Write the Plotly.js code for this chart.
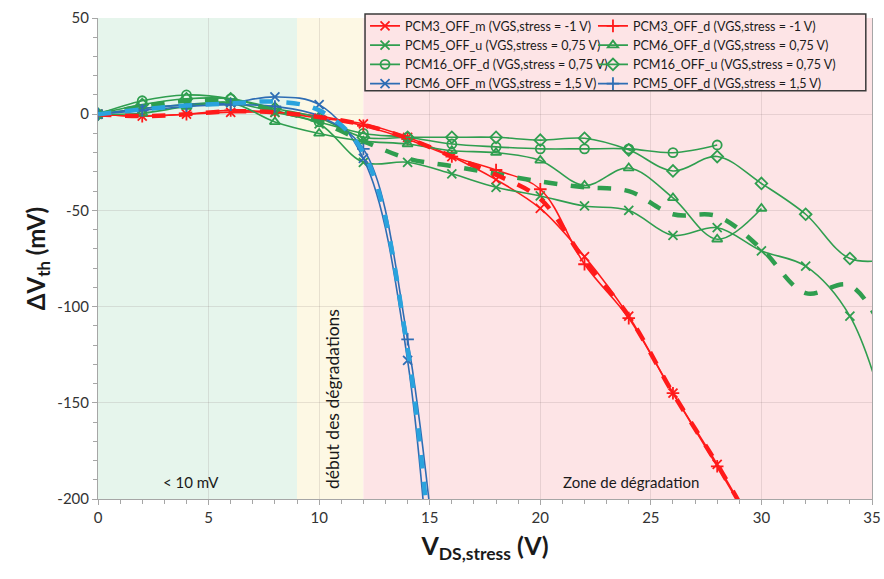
<!DOCTYPE html>
<html>
<head>
<meta charset="utf-8">
<script src="https://cdn.plot.ly/plotly-3.0.1.min.js"></script>
<style>html,body{margin:0;padding:0;background:#fff;}#chart{width:884px;height:579px;}</style>
</head>
<body>
<div id="chart"></div>
<script>
// ---- Data ----
const vds = [0, 2, 4, 6, 8, 10, 12, 14, 16, 18, 20, 22, 24, 26, 28, 30, 32, 34, 36];

const pcm3_m  = [0, -1, 0, 1, 1, -2, -5, -12, -22, -34, -49, -74, -105, -145, -182, -222];
const pcm3_d  = [0, -1, 0, 2, 1, -1, -6, -13, -22, -29, -39, -78, -106, -145, -183, -222];
const pcm3_avg = [0, -1, 0, 1.5, 1, -1.5, -5.5, -12.5, -22, -31.5, -44, -76, -105, -145, -182, -222];

const pcm5_u  = [0, 3, 5, 6, 1, -5, -25, -25, -31, -38, -42.5, -47.7, -50, -63, -59, -71, -79, -105, -172];
const pcm6_d  = [0, 0.5, 4, 6, -4, -10, -14, -15.5, -19, -20, -24, -37, -28, -43.5, -65, -49];
const pcm16_d = [0, 7, 10, 8, 2, -4, -10, -12, -15.5, -17, -18, -18, -18, -20, -16];
const pcm16_u = [0, 5, 8, 8, 3, -2, -12, -12, -12, -12, -13.5, -12.5, -18.5, -29.5, -22, -36, -52, -75, -75];
const green_avg = [0, 4, 7, 7, 2, -4, -14, -23, -27, -31, -35, -38, -40, -52, -53, -70, -93, -89, -125];

const pcm6_m  = [0, 3, 5, 6, 9, 5, -23, -128, -420];
const pcm5_d  = [0, 2, 4, 5, 4, -1, -18, -117, -320];
const blue_avg = [0, 2.5, 4.5, 5.5, 6.5, 2, -20, -122, -370];

const zoneEdges = [0, 9, 12, 35];
const zoneLabels = ['< 10 mV', 'début des dégradations', 'Zone de dégradation'];
const xTicks = [0, 5, 10, 15, 20, 25, 30, 35];
const yTicks = [-200, -150, -100, -50, 0, 50];

// ---- Styles ----
const RED = '#ff1a1a', GREEN = '#2f9e4f', BLUE = '#2e6db4', LBLUE = '#2aa3dd';
const FONT = 'Lato, "Open Sans", sans-serif';

function series(name, y, color, symbol, legend) {
  return {
    type: 'scatter', mode: 'lines+markers', name: name,
    x: vds.slice(0, y.length), y: y,
    line: {color: color, width: 1.6, shape: 'spline', smoothing: 1},
    marker: {symbol: symbol, size: 9, color: color, line: {color: color, width: 1.8}},
    legend: legend, cliponaxis: true
  };
}
function avg(y, color) {
  return {
    type: 'scatter', mode: 'lines', showlegend: false,
    x: vds.slice(0, y.length), y: y,
    line: {color: color, width: 4.5, dash: 'dash', shape: 'spline', smoothing: 1},
    hoverinfo: 'skip'
  };
}

const traces = [
  series('PCM3_OFF_m (VGS,stress = -1 V)', pcm3_m, RED, 'x-thin-open', 'legend'),
  series('PCM5_OFF_u (VGS,stress = 0,75 V)', pcm5_u, GREEN, 'x-thin-open', 'legend'),
  series('PCM16_OFF_d (VGS,stress = 0,75 V)', pcm16_d, GREEN, 'circle-open', 'legend'),
  series('PCM6_OFF_m (VGS,stress = 1,5 V)', pcm6_m, BLUE, 'x-thin-open', 'legend'),
  series('PCM3_OFF_d (VGS,stress = -1 V)', pcm3_d, RED, 'cross-thin-open', 'legend2'),
  series('PCM6_OFF_d (VGS,stress = 0,75 V)', pcm6_d, GREEN, 'triangle-up-open', 'legend2'),
  series('PCM16_OFF_u (VGS,stress = 0,75 V)', pcm16_u, GREEN, 'diamond-open', 'legend2'),
  series('PCM5_OFF_d (VGS,stress = 1,5 V)', pcm5_d, BLUE, 'cross-thin-open', 'legend2'),
  avg(green_avg, GREEN),
  avg(pcm3_avg, RED),
  avg(blue_avg, LBLUE)
];

const zoneColors = ['#e6f5ec', '#fdf8e4', '#fde4e6'];
const shapes = [];
for (let i = 0; i < 3; i++) {
  shapes.push({type: 'rect', xref: 'x', yref: 'paper', x0: zoneEdges[i], x1: zoneEdges[i + 1], y0: 0, y1: 1,
    fillcolor: zoneColors[i], line: {width: 0}, layer: 'below'});
}
shapes.push({type: 'rect', xref: 'paper', yref: 'paper', x0: 0.345, x1: 0.992, y0: 0.8485, y1: 1.0083,
  fillcolor: '#fde4e6', line: {color: '#3a3a3a', width: 1.5}, layer: 'above'});

const annFont = {family: FONT, size: 15, color: '#1a1a1a'};
const annotations = [
  {x: 4.2, y: -191, xref: 'x', yref: 'y', text: zoneLabels[0], showarrow: false, font: annFont},
  {x: 10.63, y: -148, xref: 'x', yref: 'y', text: zoneLabels[1], showarrow: false, textangle: -90,
   font: {family: FONT, size: 17.5, color: '#1a1a1a'}},
  {x: 24.1, y: -191, xref: 'x', yref: 'y', text: zoneLabels[2], showarrow: false, font: annFont}
];

const legFont = {family: FONT, size: 12.5, color: '#1a1a1a'};
const layout = {
  width: 884, height: 579,
  margin: {l: 98, r: 12, t: 17, b: 80},
  paper_bgcolor: '#ffffff', plot_bgcolor: 'rgba(0,0,0,0)',
  font: {family: FONT, color: '#404040'},
  showlegend: true,
  legend: {x: 0.345, y: 1.012, xanchor: 'left', yanchor: 'top', bgcolor: 'rgba(0,0,0,0)', borderwidth: 0,
    font: legFont, tracegroupgap: 0, itemwidth: 30, traceorder: 'normal'},
  legend2: {x: 0.6395, y: 1.012, xanchor: 'left', yanchor: 'top', bgcolor: 'rgba(0,0,0,0)', borderwidth: 0,
    font: legFont, tracegroupgap: 0, itemwidth: 30, traceorder: 'normal'},
  xaxis: {
    range: [0, 35], tickvals: xTicks, ticktext: xTicks.map(String),
    showgrid: true, gridcolor: 'rgba(120,100,100,0.16)', gridwidth: 1,
    zeroline: false, showline: true, linecolor: '#a6a6a6', linewidth: 1,
    ticks: 'outside', ticklen: 5, tickcolor: '#a6a6a6',
    minor: {dtick: 1, ticks: 'outside', ticklen: 4, tickcolor: '#a6a6a6', showgrid: false},
    tickfont: {family: FONT, size: 15, color: '#333333'},
    title: {text: '<b>V<sub>DS,stress</sub> (V)</b>', font: {family: FONT, size: 25, color: '#1a1a1a'}, standoff: 12}
  },
  yaxis: {
    range: [-200, 50], tickvals: yTicks, ticktext: yTicks.map(String),
    showgrid: true, gridcolor: 'rgba(120,100,100,0.16)', gridwidth: 1,
    zeroline: false, showline: true, linecolor: '#a6a6a6', linewidth: 1, mirror: true,
    ticks: 'outside', ticklen: 5, tickcolor: '#a6a6a6',
    minor: {dtick: 10, ticks: 'outside', ticklen: 4, tickcolor: '#a6a6a6', showgrid: false},
    tickfont: {family: FONT, size: 15, color: '#333333'},
    title: {text: '<b>ΔV<sub>th</sub> (mV)</b>', font: {family: FONT, size: 24, color: '#1a1a1a'}, standoff: 4}
  },
  shapes: shapes,
  annotations: annotations
};

Plotly.newPlot('chart', traces, layout, {displayModeBar: false, staticPlot: true});
</script>
</body>
</html>
